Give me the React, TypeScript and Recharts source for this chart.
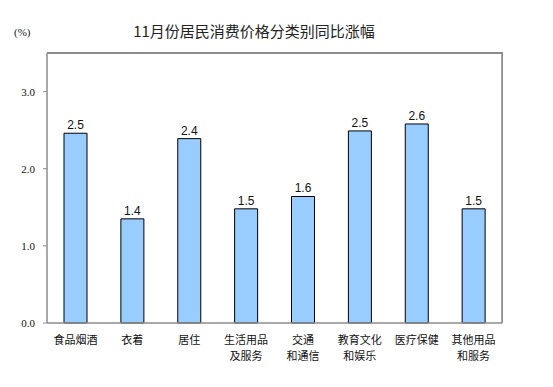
import React from "react";
import { BarChart, Bar, XAxis, YAxis, LabelList } from "recharts";

const categories = ["食品烟酒", "衣着", "居住", "生活用品及服务", "交通和通信", "教育文化和娱乐", "医疗保健", "其他用品和服务"];
const tickLines = [
  ["食品烟酒"],
  ["衣着"],
  ["居住"],
  ["生活用品", "及服务"],
  ["交通", "和通信"],
  ["教育文化", "和娱乐"],
  ["医疗保健"],
  ["其他用品", "和服务"],
];
// bar heights as drawn (unrounded), labels as printed
const values = [2.46, 1.35, 2.39, 1.48, 1.64, 2.49, 2.58, 1.48];
const labels = ["2.5", "1.4", "2.4", "1.5", "1.6", "2.5", "2.6", "1.5"];
const yTicks = [0, 1, 2, 3];
const yMax = 3.5;

const data = categories.map((name, i) => ({ name, value: values[i], label: labels[i] }));

const AXIS = "#8c8c8c";
const CJK = "'Noto Sans CJK SC', sans-serif";
const SERIF = "'Liberation Serif', 'Times New Roman', serif";

const W = 553;
const H = 387;
const yAxisW = 47;
const xAxisH = 30;
const margin = { top: 52, right: 50, left: 0, bottom: 34 };

const CategoryTick = (props: any) => {
  const { x, y, payload } = props;
  const lines = tickLines[payload.index] || [payload.value];
  return (
    <g>
      {lines.map((t: string, i: number) => (
        <text key={i} x={x} y={y + 21 + i * 16} textAnchor="middle" fontSize={11} fill="#111" style={{ fontFamily: CJK }}>
          {t}
        </text>
      ))}
    </g>
  );
};

const ValueTick = (props: any) => {
  const { x, y, payload } = props;
  return (
    <text x={x} y={y} dy={4} textAnchor="end" fontSize={11} fill="#111" style={{ fontFamily: SERIF }}>
      {Number(payload.value).toFixed(1)}
    </text>
  );
};

const plotLeft = margin.left + yAxisW;
const plotTop = margin.top + 1;
const plotRight = W - margin.right - 1;
const plotBottom = H - margin.bottom - xAxisH;

export default function App() {
  return (
    <div style={{ position: "absolute", left: 0, top: 0, width: W, height: H, background: "#fff" }}>
      <div
        style={{
          position: "absolute",
          left: 0,
          width: 508,
          top: 21,
          lineHeight: "20px",
          textAlign: "center",
          fontSize: 15,
          fontFamily: CJK,
          color: "#222",
        }}
      >
        11月份居民消费价格分类别同比涨幅
      </div>
      <div
        style={{
          position: "absolute",
          left: 14,
          top: 25,
          lineHeight: "14px",
          fontSize: 11,
          fontFamily: SERIF,
          color: "#222",
        }}
      >
        (%)
      </div>
      <div style={{ position: "absolute", left: 0, top: 0, zIndex: 1 }}>
        <BarChart width={W} height={H} data={data} margin={margin}>
          <XAxis
            dataKey="name"
            height={xAxisH}
            tickLine={false}
            tickSize={0}
            tickMargin={0}
            interval={0}
            axisLine={{ stroke: AXIS, strokeWidth: 1.5 }}
            tick={<CategoryTick />}
          />
          <XAxis xAxisId="top" dataKey="name" orientation="top" height={1} tick={false} tickLine={false} axisLine={{ stroke: AXIS, strokeWidth: 1.5 }} />
          <YAxis
            width={yAxisW}
            domain={[0, yMax]}
            ticks={yTicks}
            tickSize={4}
            tickMargin={8}
            tickLine={{ stroke: AXIS }}
            axisLine={{ stroke: AXIS, strokeWidth: 1.5 }}
            tick={<ValueTick />}
          />
          <YAxis yAxisId="right" orientation="right" width={1} domain={[0, yMax]} tick={false} tickLine={false} axisLine={{ stroke: AXIS, strokeWidth: 1.5 }} />
          <Bar dataKey="value" fill="#99ccff" stroke="#000" strokeWidth={1} barSize={23} isAnimationActive={false}>
            <LabelList dataKey="label" position="top" offset={4} fontSize={12} fill="#111" fontFamily="'Liberation Sans', Arial, sans-serif" />
          </Bar>
        </BarChart>
      </div>
      {/* top and right edges of the plot box */}
      <div style={{ position: "absolute", zIndex: 5, left: plotLeft, top: plotTop - 1, width: plotRight - plotLeft + 1, height: 1.5, background: AXIS }} />
      <div style={{ position: "absolute", zIndex: 5, left: plotRight - 0.5, top: plotTop - 1, width: 1.5, height: plotBottom - plotTop + 1, background: AXIS }} />
    </div>
  );
}
